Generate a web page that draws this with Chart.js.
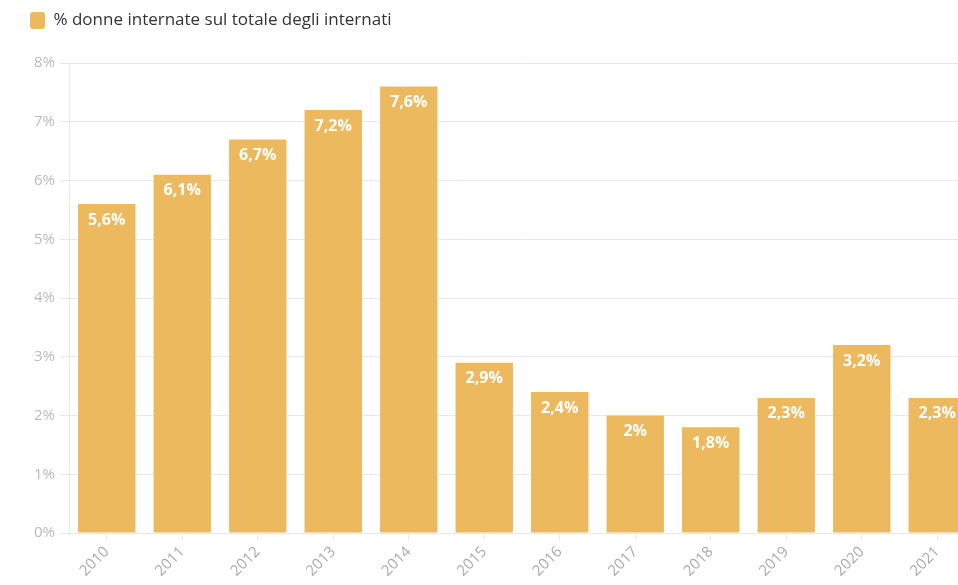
<!DOCTYPE html>
<html lang="it">
<head>
<meta charset="utf-8">
<title>% donne internate</title>
<script src="https://cdn.jsdelivr.net/npm/chart.js@4.4.0/dist/chart.umd.min.js"></script>
<style>
  html, body { margin: 0; padding: 0; background: #fff; overflow: hidden; }
  #wrap { width: 975px; height: 585px; position: relative; }
</style>
</head>
<body>
<div id="wrap"><canvas id="chart"></canvas></div>
<script>
// Anni e percentuali
const years = ['2010', '2011', '2012', '2013', '2014', '2015', '2016', '2017', '2018', '2019', '2020', '2021'];
const womenShare = [5.6, 6.1, 6.7, 7.2, 7.6, 2.9, 2.4, 2.0, 1.8, 2.3, 3.2, 2.3];
const yTicks = [0, 1, 2, 3, 4, 5, 6, 7, 8];
const seriesName = '% donne internate sul totale degli internati';

const barColor = '#edb95e';
const gridColor = '#e8e8ea';
const fontFamily = '"Open Sans", Lato, sans-serif';

function fmt(v) {
    return v.toLocaleString('it-IT') + '%';
}

// Etichette bianche dentro la cima delle barre
const barLabels = {
    id: 'barLabels',
    afterDatasetsDraw(chart) {
        const ctx = chart.ctx;
        const meta = chart.getDatasetMeta(0);
        ctx.save();
        ctx.font = 'bold 16px ' + fontFamily;
        ctx.fillStyle = '#ffffff';
        ctx.textAlign = 'center';
        ctx.textBaseline = 'middle';
        meta.data.forEach((bar, i) => {
            ctx.fillText(fmt(womenShare[i]), bar.x, bar.y + 16);
        });
        ctx.restore();
    }
};

// Spazio extra sotto la legenda
const legendGap = {
    id: 'legendGap',
    beforeInit(chart) {
        const fit = chart.legend.fit;
        chart.legend.fit = function () {
            fit.call(this);
            this.height += 24;
        };
    }
};

new Chart(document.getElementById('chart'), {
    type: 'bar',
    data: {
        labels: years,
        datasets: [{
            label: seriesName,
            data: womenShare,
            backgroundColor: barColor,
            borderWidth: 0,
            borderRadius: 0,
            barPercentage: 0.76,
            categoryPercentage: 1
        }]
    },
    options: {
        responsive: true,
        maintainAspectRatio: false,
        animation: false,
        layout: { padding: { left: 20, top: 2, right: 0, bottom: 2 } },
        plugins: {
            tooltip: { enabled: false },
            legend: {
                position: 'top',
                align: 'start',
                labels: {
                    boxWidth: 15,
                    boxHeight: 17,
                    useBorderRadius: true,
                    borderRadius: 3,
                    padding: 10,
                    color: '#333',
                    font: { family: fontFamily, size: 17 }
                }
            }
        },
        scales: {
            x: {
                grid: {
                    offset: false,
                    drawOnChartArea: false,
                    color: gridColor,
                    tickLength: 7
                },
                border: { color: gridColor },
                ticks: {
                    minRotation: 45,
                    maxRotation: 45,
                    color: '#aaa',
                    font: { family: fontFamily, size: 15 }
                }
            },
            y: {
                min: 0,
                max: 8,
                afterBuildTicks(scale) {
                    scale.ticks = yTicks.map(v => ({ value: v }));
                },
                afterFit(scale) {
                    scale.width = 49;
                },
                grid: { color: gridColor, tickLength: 9 },
                border: { color: gridColor },
                ticks: {
                    color: '#bbb',
                    padding: 5,
                    font: { family: fontFamily, size: 15 },
                    callback: v => v + '%'
                }
            }
        }
    },
    plugins: [barLabels, legendGap]
});
</script>
</body>
</html>
